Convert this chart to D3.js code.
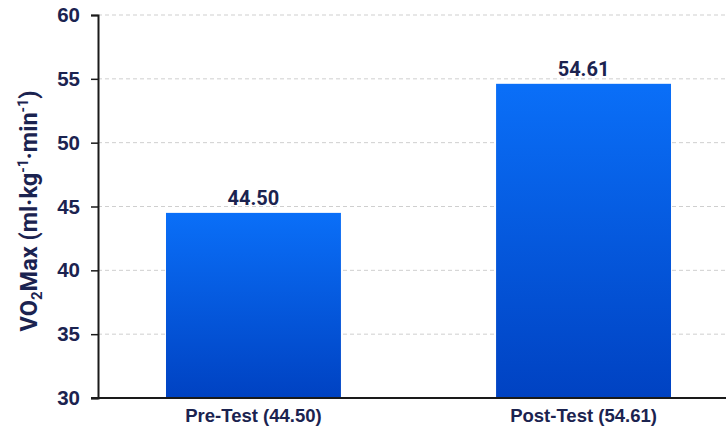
<!DOCTYPE html>
<html>
<head>
<meta charset="utf-8">
<script src="https://cdn.jsdelivr.net/npm/d3@7"></script>
<style>
  body { margin: 0; background: #fff; }
  svg { display: block; font-family: Roboto, 'Noto Sans', sans-serif; }
  .tick text { fill: #1b2350; font-weight: 700; }
</style>
</head>
<body>
<svg id="chart" width="726" height="430"></svg>
<script>
const categories = ['Pre-Test (44.50)', 'Post-Test (54.61)'];
const values = [44.50, 54.61];
const valueLabels = ['44.50', '54.61'];
const yTicks = [30, 35, 40, 45, 50, 55, 60];

const width = 726;
const height = 430;
const margin = { top: 15, right: -13, bottom: 32, left: 98 };
const textColor = '#1b2350';

const svg = d3.select('#chart');

const x = d3.scaleBand()
  .domain(categories)
  .range([margin.left, width - margin.right])
  .paddingInner(0.47)
  .paddingOuter(0.206);

const y = d3.scaleLinear()
  .domain([30, 60])
  .range([height - margin.bottom, margin.top]);

// bar gradient
const grad = svg.append('defs')
  .append('linearGradient')
  .attr('id', 'barGrad')
  .attr('x1', 0).attr('y1', 0)
  .attr('x2', 0).attr('y2', 1);
grad.append('stop').attr('offset', '0%').attr('stop-color', '#0a6ff8');
grad.append('stop').attr('offset', '100%').attr('stop-color', '#0042c2');

// horizontal dashed grid
svg.append('g')
  .selectAll('line')
  .data(yTicks.filter((d) => d > 30))
  .enter()
  .append('line')
  .attr('x1', margin.left)
  .attr('x2', width)
  .attr('y1', (d) => y(d))
  .attr('y2', (d) => y(d))
  .attr('stroke', '#cfcfcf')
  .attr('stroke-width', 1)
  .attr('stroke-dasharray', '4,3');

// bars
svg.append('g')
  .selectAll('rect')
  .data(values)
  .enter()
  .append('rect')
  .attr('x', (d, i) => x(categories[i]))
  .attr('y', (d) => y(d))
  .attr('width', x.bandwidth())
  .attr('height', (d) => y(30) - y(d))
  .attr('fill', 'url(#barGrad)');

// value labels
svg.append('g')
  .selectAll('text')
  .data(values)
  .enter()
  .append('text')
  .attr('x', (d, i) => x(categories[i]) + x.bandwidth() / 2)
  .attr('y', (d) => y(d) - 8)
  .attr('text-anchor', 'middle')
  .attr('fill', textColor)
  .attr('font-size', 20)
  .attr('font-weight', 700)
  .text((d, i) => valueLabels[i]);

// y axis
const yAxis = svg.append('g')
  .attr('transform', `translate(${margin.left},0)`)
  .call(d3.axisLeft(y).tickValues(yTicks).tickSize(7).tickPadding(11).tickFormat(d3.format('d')));
yAxis.selectAll('text').attr('font-size', 20.5);
yAxis.select('.domain').attr('stroke', '#1a1a1a').attr('stroke-width', 2);
yAxis.selectAll('.tick line').attr('stroke', '#1a1a1a').attr('stroke-width', 1.5);

// x axis
const xAxis = svg.append('g')
  .attr('transform', `translate(0,${y(30)})`)
  .call(d3.axisBottom(x).tickSize(0).tickPadding(10));
xAxis.select('.domain').remove();
xAxis.append('line')
  .attr('x1', margin.left - 7)
  .attr('x2', width)
  .attr('stroke', '#1a1a1a')
  .attr('stroke-width', 2);
xAxis.selectAll('text').attr('font-size', 18.5).attr('dy', '0.75em');

// y axis title
const title = svg.append('text')
  .attr('transform', 'translate(37,211) rotate(-90)')
  .attr('text-anchor', 'middle')
  .attr('fill', textColor)
  .attr('font-size', 23.5)
  .attr('font-weight', 700);
title.append('tspan').text('VO');
title.append('tspan').attr('font-size', 15).attr('dy', 5).text('2');
title.append('tspan').attr('dy', -5).text('Max (ml·kg');
title.append('tspan').attr('font-size', 14).attr('dy', -9).text('-1');
title.append('tspan').attr('dy', 9).text('·min');
title.append('tspan').attr('font-size', 14).attr('dy', -9).text('-1');
title.append('tspan').attr('dy', 9).text(')');
</script>
</body>
</html>
